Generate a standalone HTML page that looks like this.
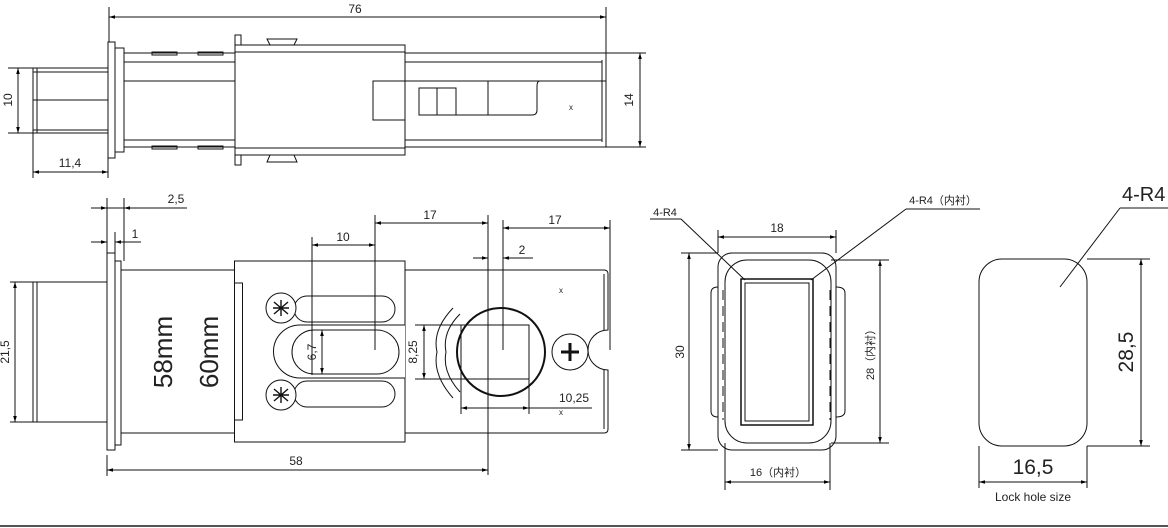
<!DOCTYPE html>
<html><head><meta charset="utf-8"><style>
html,body{margin:0;padding:0;background:#fff;}
svg{display:block;}
text{font-family:"Liberation Sans","Noto Sans CJK SC",sans-serif;fill:#222;}
</style></head><body>
<svg width="1168" height="528" viewBox="0 0 1168 528" xmlns="http://www.w3.org/2000/svg">
<defs>
<marker id="a" viewBox="0 0 10 6" refX="10" refY="3" markerWidth="6" markerHeight="4" orient="auto-start-reverse"><path d="M0,0L10,3L0,6z" fill="#000"/></marker>
</defs>
<g fill="none" stroke="#111" stroke-width="1">
<line x1="109" y1="7" x2="109" y2="42"/><line x1="606" y1="7" x2="606" y2="55"/>
<line x1="109" y1="17" x2="606" y2="17" marker-start="url(#a)" marker-end="url(#a)"/>
<rect x="108" y="42" width="7" height="116"/><rect x="115" y="48" width="9" height="104"/>
<rect x="33" y="68" width="75" height="65"/>
<line x1="37" y1="68" x2="37" y2="133"/><line x1="33" y1="72" x2="108" y2="72"/><line x1="33" y1="100" x2="108" y2="100"/><line x1="33" y1="130" x2="108" y2="130"/>
<line x1="8" y1="68" x2="33" y2="68"/><line x1="8" y1="133" x2="33" y2="133"/>
<line x1="18" y1="68" x2="18" y2="133" marker-start="url(#a)" marker-end="url(#a)"/>
<line x1="33" y1="133" x2="33" y2="178"/><line x1="108" y1="158" x2="108" y2="178"/>
<line x1="33" y1="172" x2="108" y2="172" marker-start="url(#a)" marker-end="url(#a)"/>
<line x1="124" y1="53" x2="606" y2="53"/><line x1="124" y1="62" x2="602" y2="62"/><line x1="124" y1="81" x2="235" y2="81"/><line x1="405" y1="81" x2="606" y2="81"/>
<line x1="124" y1="140" x2="602" y2="140"/><line x1="124" y1="147" x2="606" y2="147"/>
<line x1="602" y1="60" x2="602" y2="142"/><line x1="606" y1="53" x2="606" y2="147"/>
<rect x="235" y="45" width="170" height="110" fill="#fff"/>
<line x1="235" y1="52" x2="405" y2="52"/><line x1="235" y1="148" x2="405" y2="148"/>
<rect x="235" y="35" width="6" height="10"/><rect x="235" y="155" width="6" height="10"/>
<path d="M267,39H297L294,45H270Z"/><path d="M270,155H294L297,162H267Z"/>
<rect x="152" y="52" width="25" height="3"/><rect x="198" y="52" width="25" height="3"/>
<rect x="152" y="146" width="25" height="3"/><rect x="198" y="146" width="25" height="3"/>
<path d="M405,81H373V120H405"/>
<rect x="419" y="88" width="18" height="27"/><rect x="437" y="88" width="19" height="27"/>
<line x1="488" y1="81" x2="488" y2="115"/><path d="M456,115H532Q537,115 537,110V86Q537,81 540,81"/>
<line x1="640" y1="53" x2="640" y2="147" marker-start="url(#a)" marker-end="url(#a)"/>
<line x1="606" y1="53" x2="646" y2="53"/><line x1="606" y1="147" x2="646" y2="147"/>

<line x1="107" y1="198" x2="107" y2="253"/><line x1="124" y1="198" x2="124" y2="261"/><line x1="115" y1="232" x2="115" y2="253"/>
<line x1="91" y1="208" x2="107" y2="208" marker-end="url(#a)"/><line x1="140" y1="208" x2="124" y2="208" marker-end="url(#a)"/><line x1="107" y1="208" x2="187" y2="208"/>
<line x1="91" y1="242" x2="107" y2="242" marker-end="url(#a)"/><line x1="131" y1="242" x2="115" y2="242" marker-end="url(#a)"/><line x1="115" y1="242" x2="141" y2="242"/>
<rect x="107" y="253" width="8" height="197"/><rect x="115" y="261" width="6" height="184"/>
<rect x="33" y="282" width="74" height="140"/><line x1="37" y1="282" x2="37" y2="422"/>
<line x1="10" y1="282" x2="33" y2="282"/><line x1="10" y1="422" x2="33" y2="422"/>
<line x1="15" y1="282" x2="15" y2="422" marker-start="url(#a)" marker-end="url(#a)"/>
<path d="M121,270H604Q608,270 608,274V330A20,20 0 0 0 608,370V429Q608,433 604,433H121"/>
<line x1="604" y1="274" x2="604" y2="330"/><line x1="604" y1="370" x2="604" y2="429"/>
<rect x="234.5" y="261" width="170.5" height="181" fill="#fff"/>
<rect x="234.5" y="283" width="8" height="137"/>
<rect x="294" y="296" width="101" height="26" rx="13"/><rect x="294" y="381" width="101" height="26" rx="13"/>
<path d="M405,325H300A26,26 0 0 0 300,378H405" fill="#fff"/>
<rect x="292" y="330" width="107" height="44" rx="22"/>
<circle cx="281" cy="308" r="15" fill="#fff"/><circle cx="281" cy="395" r="15" fill="#fff"/>
<path d="M274,302l14,12M288,302l-14,12M281,300v16M273,308h16" stroke-width="1.4"/>
<path d="M274,389l14,12M288,389l-14,12M281,387v16M273,395h16" stroke-width="1.4"/>
<circle cx="501" cy="352" r="44" stroke-width="2"/>
<rect x="461" y="325" width="68" height="54"/>
<path d="M453,308Q432,330 437,352Q432,374 453,398M460,314Q442,332 446,352Q442,372 460,392"/>
<circle cx="570" cy="352" r="18"/>
<path d="M561,352h18M570,343v18" stroke-width="3"/>
<line x1="312" y1="237" x2="312" y2="375"/><line x1="375" y1="215" x2="375" y2="350"/>
<line x1="312" y1="245" x2="375" y2="245" marker-start="url(#a)" marker-end="url(#a)"/>
<line x1="375" y1="223" x2="488" y2="223" marker-start="url(#a)" marker-end="url(#a)"/>
<line x1="503" y1="220" x2="503" y2="350"/><line x1="610" y1="220" x2="610" y2="350"/>
<line x1="503" y1="228" x2="610" y2="228" marker-start="url(#a)" marker-end="url(#a)"/>
<line x1="473" y1="258" x2="488" y2="258" marker-end="url(#a)"/><line x1="518" y1="258" x2="503" y2="258" marker-end="url(#a)"/><line x1="503" y1="258" x2="533" y2="258"/>
<line x1="488" y1="215" x2="488" y2="475"/>
<line x1="322" y1="330" x2="322" y2="374" marker-start="url(#a)" marker-end="url(#a)"/>
<line x1="415" y1="325" x2="461" y2="325"/><line x1="415" y1="379" x2="461" y2="379"/>
<line x1="424" y1="325" x2="424" y2="379" marker-start="url(#a)" marker-end="url(#a)"/>
<line x1="461" y1="379" x2="461" y2="414"/><line x1="529" y1="379" x2="529" y2="414"/>
<line x1="461" y1="408" x2="529" y2="408" marker-start="url(#a)" marker-end="url(#a)"/><line x1="529" y1="408" x2="592" y2="408"/>
<line x1="107" y1="455" x2="107" y2="476"/>
<line x1="107" y1="470" x2="488" y2="470" marker-start="url(#a)" marker-end="url(#a)"/>

<line x1="650" y1="219" x2="681" y2="219"/><line x1="681" y1="219" x2="745" y2="280"/>
<line x1="906" y1="209" x2="980" y2="209"/><line x1="906" y1="209" x2="811" y2="280"/>
<line x1="718" y1="230" x2="718" y2="253"/><line x1="836" y1="230" x2="836" y2="253"/>
<line x1="718" y1="237" x2="836" y2="237" marker-start="url(#a)" marker-end="url(#a)"/>
<path d="M711,293Q711,287 718,287M711,293V411Q711,417 718,417M845,293Q845,287 836,287M845,293V411Q845,417 836,417"/>
<rect x="718" y="253" width="118" height="197" rx="14"/>
<rect x="725" y="260" width="106" height="183" rx="22"/>
<line x1="723" y1="290" x2="723" y2="420" stroke-dasharray="10,6"/><line x1="830" y1="290" x2="830" y2="420" stroke-dasharray="10,6"/>
<rect x="741" y="279" width="72" height="146" stroke-width="1.5"/>
<rect x="745" y="283" width="64" height="138"/>
<line x1="681" y1="253" x2="718" y2="253"/><line x1="681" y1="450" x2="718" y2="450"/>
<line x1="689" y1="253" x2="689" y2="450" marker-start="url(#a)" marker-end="url(#a)"/>
<line x1="831" y1="260" x2="889" y2="260"/><line x1="831" y1="443" x2="889" y2="443"/>
<line x1="880" y1="260" x2="880" y2="443" marker-start="url(#a)" marker-end="url(#a)"/>
<line x1="725" y1="443" x2="725" y2="490"/><line x1="830" y1="443" x2="830" y2="490"/>
<line x1="725" y1="482" x2="830" y2="482" marker-start="url(#a)" marker-end="url(#a)"/>

<rect x="979" y="259" width="108" height="187" rx="23"/>
<line x1="1120" y1="208" x2="1168" y2="208"/><line x1="1120" y1="208" x2="1060" y2="287"/>
<line x1="1087" y1="259" x2="1150" y2="259"/><line x1="1087" y1="446" x2="1150" y2="446"/>
<line x1="1141" y1="259" x2="1141" y2="446" marker-start="url(#a)" marker-end="url(#a)"/>
<line x1="979" y1="446" x2="979" y2="488"/><line x1="1087" y1="446" x2="1087" y2="488"/>
<line x1="979" y1="482" x2="1087" y2="482" marker-start="url(#a)" marker-end="url(#a)"/>
</g>
<line x1="0" y1="526" x2="1168" y2="526" stroke="#555" stroke-width="2"/>

<g font-size="12" text-anchor="middle">
<text x="355" y="13">76</text>
<text x="70" y="167">11,4</text>
<text transform="translate(12,100) rotate(-90)">10</text>
<text transform="translate(633,100) rotate(-90)">14</text>
<text x="571" y="110" font-size="8">x</text>
<text x="176" y="203">2,5</text>
<text x="135" y="238">1</text>
<text transform="translate(9,352) rotate(-90)">21,5</text>
<text x="343" y="241">10</text>
<text x="430" y="219">17</text>
<text x="555" y="224">17</text>
<text x="522" y="254">2</text>
<text transform="translate(316,352) rotate(-90)">6,7</text>
<text transform="translate(417,352) rotate(-90)">8,25</text>
<text x="574" y="402">10,25</text>
<text x="296" y="465">58</text>
<text x="561" y="293" font-size="8">x</text>
<text x="561" y="415" font-size="8">x</text>
<text transform="translate(172,352) rotate(-90)" font-size="26">58mm</text>
<text transform="translate(218,352) rotate(-90)" font-size="26">60mm</text>
<text x="665" y="216" font-size="11">4-R4</text>
<text x="943" y="204" font-size="11">4-R4（内衬）</text>
<text x="777" y="232">18</text>
<text transform="translate(684,352) rotate(-90)">30</text>
<text transform="translate(874,352) rotate(-90)" font-size="11">28（内衬）</text>
<text x="778" y="476" font-size="11">16（内衬）</text>
<text x="1122" y="201" font-size="20" text-anchor="start">4-R4</text>
<text transform="translate(1133,352) rotate(-90)" font-size="21">28,5</text>
<text x="1033" y="474" font-size="21">16,5</text>
<text x="1033" y="501" font-size="12">Lock hole size</text>
</g>
</svg>
</body></html>
